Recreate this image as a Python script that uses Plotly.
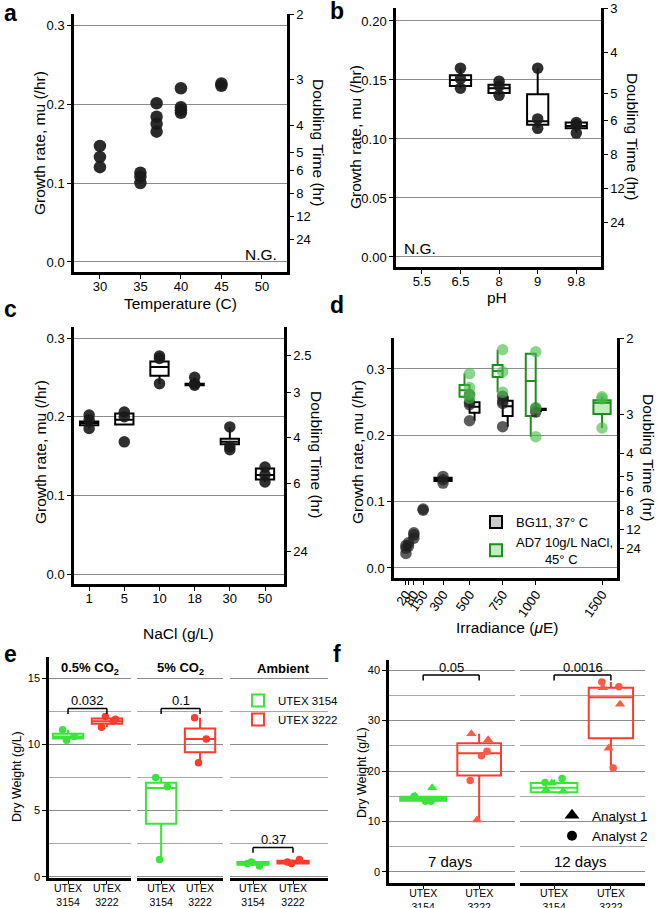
import math
import plotly.graph_objects as go

W, H = 657, 908
FONT = "Liberation Sans, Arial, Helvetica, sans-serif"
LN2 = math.log(2)

# ---------------- data ----------------
# a: temperature
a_temp = [30, 30, 30, 35, 35, 35, 37, 37, 37, 37, 40, 40, 40, 40, 45, 45]
a_mu = [0.147, 0.133, 0.120, 0.113, 0.108, 0.100, 0.201, 0.184, 0.175, 0.165,
        0.220, 0.196, 0.192, 0.189, 0.226, 0.223]
a_xticks = [30, 35, 40, 45, 50]

# b: pH
b_cats = ["5.5", "6.5", "8", "9", "9.8"]
b_pt_cat = ["6.5"] * 3 + ["8"] * 3 + ["9"] * 3 + ["9.8"] * 3
b_pt_mu = [0.160, 0.151, 0.143, 0.149, 0.145, 0.137, 0.160, 0.117, 0.109, 0.114, 0.112, 0.105]
b_box_cat = ["6.5", "8", "9", "9.8"]
b_q1 = [0.145, 0.139, 0.112, 0.109]
b_med = [0.150, 0.143, 0.115, 0.111]
b_q3 = [0.154, 0.146, 0.138, 0.114]
b_lo = [0.143, 0.137, 0.109, 0.105]
b_hi = [0.160, 0.149, 0.160, 0.114]

# c: NaCl
c_cats = ["1", "5", "10", "18", "30", "50"]
c_pt_cat = ["1"] * 3 + ["5"] * 3 + ["10"] * 3 + ["18"] * 3 + ["30"] * 3 + ["50"] * 3
c_pt_mu = [0.202, 0.196, 0.185, 0.206, 0.200, 0.168, 0.277, 0.274, 0.242,
           0.250, 0.242, 0.240, 0.187, 0.162, 0.158, 0.136, 0.126, 0.117]
c_q1 = [0.189, 0.190, 0.252, 0.240, 0.165, 0.120]
c_med = [0.192, 0.196, 0.263, 0.241, 0.168, 0.126]
c_q3 = [0.194, 0.204, 0.270, 0.242, 0.172, 0.134]
c_lo = [0.185, 0.190, 0.242, 0.240, 0.158, 0.117]
c_hi = [0.202, 0.206, 0.277, 0.250, 0.187, 0.136]

# d: irradiance
d_xticks = [20, 40, 80, 150, 300, 500, 750, 1000, 1500]
d_xticklabels = ["20", " ", "80", "150", "300", "500", "750", "1000", "1500"]
d_bg_x = [20, 20, 20, 40, 40, 80, 80, 80, 150, 150, 300, 300, 300,
          500, 500, 500, 500, 750, 750, 750, 750, 1000, 1000]
d_bg_mu = [0.022, 0.030, 0.034, 0.033, 0.038, 0.045, 0.050, 0.053, 0.087, 0.089,
           0.128, 0.133, 0.138, 0.261, 0.246, 0.250, 0.222, 0.259, 0.248, 0.252, 0.213,
           0.241, 0.235]
d_bg_box_x = [300, 500, 750, 1000]
d_bg_q1 = [0.131, 0.234, 0.229, 0.238]
d_bg_med = [0.134, 0.243, 0.244, 0.240]
d_bg_q3 = [0.136, 0.250, 0.252, 0.240]
d_bg_lo = [0.128, 0.222, 0.213, 0.235]
d_bg_hi = [0.138, 0.250, 0.259, 0.241]
d_ad_x = [500, 500, 500, 500, 750, 750, 750, 1000, 1000, 1000, 1500, 1500, 1500]
d_ad_mu = [0.293, 0.272, 0.262, 0.256, 0.329, 0.296, 0.265, 0.326, 0.241, 0.198,
           0.258, 0.255, 0.211]
d_ad_box_x = [500, 750, 1000, 1500]
d_ad_q1 = [0.258, 0.288, 0.229, 0.232]
d_ad_med = [0.268, 0.297, 0.282, 0.249]
d_ad_q3 = [0.276, 0.306, 0.323, 0.253]
d_ad_lo = [0.256, 0.265, 0.198, 0.211]
d_ad_hi = [0.293, 0.329, 0.323, 0.258]

# doubling-time labels (right axes)
a_dt = [2, 3, 4, 5, 6, 8, 12, 24]
b_dt = [3, 4, 5, 6, 8, 12, 24]
c_dt = [2.5, 3, 4, 6, 24]
d_dt = [2, 3, 4, 5, 6, 8, 12, 24]

# e: dry weight by CO2
e_facets = ["0.5% CO<sub>2</sub>", "5% CO<sub>2</sub>", "Ambient"]
e_strains = ["UTEX 3154", "UTEX 3222"]
e_g_pts = [[11.1, 10.6, 10.3], [7.5, 6.8, 1.3], [1.0, 0.8, 1.1]]
e_r_pts = [[11.3, 11.75, 12.1, 11.9], [12.0, 10.4, 8.6], [1.1, 1.3, 1.0]]
e_g_q1 = [10.45, 4.0, 0.9]
e_g_med = [10.6, 6.7, 1.0]
e_g_q3 = [10.8, 7.1, 1.1]
e_g_lo = [10.3, 1.3, 0.8]
e_g_hi = [11.1, 7.5, 1.1]
e_r_q1 = [11.55, 9.4, 1.0]
e_r_med = [11.75, 10.4, 1.1]
e_r_q3 = [11.95, 11.2, 1.2]
e_r_lo = [11.3, 8.6, 1.0]
e_r_hi = [12.15, 12.0, 1.3]
e_p = ["0.032", "0.1", "0.37"]
e_p_y = [12.7, 12.7, 2.2]

# f: dry weight by day / analyst
f_facets = ["7 days", "12 days"]
f_g_tri = [[15.0, 16.7], [16.3, 16.0, 17.6]]
f_g_cir = [[14.0, 15.0, 14.0], [18.5, 17.7]]
f_r_tri = [[27.4, 26.2, 10.3], [36.5, 33.2, 24.5]]
f_r_cir = [[23.9, 18.1, 23.0], [36.7, 37.6, 20.6]]
f_g_q1 = [14.1, 15.8]
f_g_med = [14.5, 16.7]
f_g_q3 = [14.9, 17.6]
f_g_lo = [14.0, 15.8]
f_g_hi = [15.0, 18.3]
f_r_q1 = [19.1, 26.5]
f_r_med = [23.5, 34.6]
f_r_q3 = [25.5, 36.5]
f_r_lo = [10.0, 20.6]
f_r_hi = [27.4, 37.6]
f_p = ["0.05", "0.0016"]
f_p_y = [39.0, 39.0]

# ---------------- helpers ----------------
def fx(p):
    return p / W


def fy(p):
    return 1 - p / H


GREEN = "#3be43b"
RED = "#ff3b2e"
DGREEN = "#1d8f1d"
GRID = "#8c8c8c"
JIT = [-0.14, 0.16, -0.04, 0.22, -0.22, 0.06]

fig = go.Figure()
L = dict(width=W, height=H, margin=dict(l=0, r=0, t=0, b=0, pad=0, autoexpand=False),
         paper_bgcolor="white", plot_bgcolor="white", showlegend=True,
         font=dict(family=FONT, color="black", size=13))
ann = []
shapes = []


def ax(**kw):
    d = dict(showline=True, linecolor="black", linewidth=2.5, ticks="outside",
             ticklen=4, tickwidth=1.2, tickcolor="black", zeroline=False, automargin=False,
             showgrid=False, tickfont=dict(size=13, family=FONT, color="black"))
    d.update(kw)
    return d


def key(prefix, n):
    return prefix + ("" if n == 1 else str(n))


def text(x, y, s, size=15.5, angle=0, bold=False, xanchor="center", yanchor="middle", **kw):
    ann.append(dict(x=fx(x), y=fy(y), xref="paper", yref="paper", text=("<b>%s</b>" % s) if bold else s,
                    showarrow=False, textangle=angle, xanchor=xanchor, yanchor=yanchor,
                    font=dict(size=size, family=FONT, color="black"), **kw))


def growth_panel(n_x, n_y, xdom, ydom, yrange, yticks, yticktext, dt, xkw):
    top = yrange[1]
    L[key("xaxis", n_x)] = ax(domain=[fx(xdom[0]), fx(xdom[1])], anchor=key("y", n_y),
                              ticklabelstandoff=-3, **xkw)
    L[key("yaxis", n_y)] = ax(domain=[fy(ydom[1]), fy(ydom[0])], anchor=key("x", n_x), range=yrange,
                              tickvals=yticks, ticktext=yticktext, showgrid=True,
                              gridcolor=GRID, gridwidth=1)
    L[key("yaxis", n_y + 1)] = ax(overlaying=key("y", n_y), side="right", anchor=key("x", n_x),
                                  range=yrange, tickvals=[min(LN2 / t, top) for t in dt],
                                  ticktext=[("%g" % t) for t in dt])
    fig.add_trace(go.Scatter(x=[None], y=[None], xaxis=key("x", n_x), yaxis=key("y", n_y + 1),
                             showlegend=False, hoverinfo="skip"))


def box(x, q1, med, q3, lo, hi, color, fill, width, xa, ya, name="", showlegend=False,
        legend="legend", lw=2):
    fig.add_trace(go.Box(x=x, q1=q1, median=med, q3=q3, lowerfence=lo, upperfence=hi,
                         line=dict(color=color, width=lw), fillcolor=fill, width=width,
                         whiskerwidth=0, boxpoints=False, xaxis=xa, yaxis=ya, name=name,
                         showlegend=showlegend, legend=legend, hoverinfo="skip"))


def pts(x, y, color, size, xa, ya, symbol="circle"):
    fig.add_trace(go.Scatter(x=x, y=y, mode="markers", xaxis=xa, yaxis=ya, showlegend=False,
                             marker=dict(color=color, size=size, symbol=symbol, line=dict(width=0)),
                             hoverinfo="skip"))


# ---------------- panel a ----------------
growth_panel(1, 1, (74, 287), (14, 272), [-0.0127, 0.314], [0, 0.1, 0.2, 0.3],
             ["0.0", "0.1", "0.2", "0.3"], a_dt,
             dict(range=[26.8, 53.1], tickvals=a_xticks))
pts(a_temp, a_mu, "rgba(25,25,25,0.92)", 12.5, "x", "y")
text(40, 143, "Growth rate, mu (/hr)", angle=-90)
text(318, 143, "Doubling Time (hr)", angle=90)
text(180, 303, "Temperature (C)")
text(279, 254, "N.G.", size=15.5, xanchor="right")

# ---------------- panel b ----------------
growth_panel(2, 3, (396, 601), (8, 267), [-0.0085, 0.211], [0, 0.05, 0.10, 0.15, 0.20],
             ["0.00", "0.05", "0.10", "0.15", "0.20"], b_dt,
             dict(range=[-0.67, 4.64], tickvals=list(range(len(b_cats))), ticktext=b_cats))
pts([b_cats.index(c) for c in b_pt_cat], b_pt_mu, "rgba(25,25,25,0.9)", 11.5, "x2", "y3")
box([b_cats.index(c) for c in b_box_cat], b_q1, b_med, b_q3, b_lo, b_hi, "black",
    "rgba(255,255,255,0.55)", 0.55, "x2", "y3")
text(355, 137, "Growth rate, mu (/hr)", angle=-90)
text(633, 137, "Doubling Time (hr)", angle=90)
text(497, 297, "pH")
text(402, 248, "N.G.", size=15.5, xanchor="left")

# ---------------- panel c ----------------
growth_panel(3, 5, (74, 284), (327, 584), [-0.0127, 0.314], [0, 0.1, 0.2, 0.3],
             ["0.0", "0.1", "0.2", "0.3"], c_dt,
             dict(range=[-0.43, 5.54], tickvals=list(range(len(c_cats))), ticktext=c_cats))
pts([c_cats.index(c) for c in c_pt_cat], c_pt_mu, "rgba(25,25,25,0.9)", 11.5, "x3", "y5")
box(list(range(len(c_cats))), c_q1, c_med, c_q3, c_lo, c_hi, "black",
    "rgba(255,255,255,0.55)", 0.52, "x3", "y5")
text(40, 452, "Growth rate, mu (/hr)", angle=-90)
text(316, 455, "Doubling Time (hr)", angle=90)
text(178, 633, "NaCl (g/L)")

# ---------------- panel d ----------------
growth_panel(4, 7, (394, 617), (338, 578), [-0.0151, 0.3467], [0, 0.1, 0.2, 0.3],
             ["0.0", "0.1", "0.2", "0.3"], d_dt,
             dict(range=[-70, 1613], tickvals=d_xticks, ticktext=d_xticklabels, tickangle=-55))
DODGE, WFULL, WDODGE = 38, 130, 75
shared = set(d_bg_box_x) & set(d_ad_box_x)
pts(d_bg_x, d_bg_mu, "rgba(30,30,30,0.72)", 11.5, "x4", "y7")
pts(d_ad_x, d_ad_mu, "rgba(70,185,70,0.62)", 11.5, "x4", "y7")


def split(xs, stats, dodged):
    idx = [i for i, v in enumerate(xs) if (v in shared) == dodged]
    return idx, [[s[i] for i in idx] for s in stats]


bg_stats = [d_bg_q1, d_bg_med, d_bg_q3, d_bg_lo, d_bg_hi]
ad_stats = [d_ad_q1, d_ad_med, d_ad_q3, d_ad_lo, d_ad_hi]
i, s = split(d_bg_box_x, bg_stats, False)
box([d_bg_box_x[k] for k in i], *s, "black", "rgba(160,160,160,0.55)", WFULL, "x4", "y7",
    name="BG11, 37° C", showlegend=True, legend="legend")
i, s = split(d_bg_box_x, bg_stats, True)
box([d_bg_box_x[k] + DODGE for k in i], *s, "black", "rgba(255,255,255,0.85)", WDODGE, "x4", "y7")
i, s = split(d_ad_box_x, ad_stats, False)
box([d_ad_box_x[k] for k in i], *s, DGREEN, "rgba(120,210,120,0.45)", WFULL, "x4", "y7",
    name="AD7 10g/L NaCl,<br>\u00a0\u00a0\u00a0\u00a0\u00a0\u00a0\u00a0\u00a045° C",
    showlegend=True, legend="legend")
i, s = split(d_ad_box_x, ad_stats, True)
box([d_ad_box_x[k] - DODGE for k in i], *s, DGREEN, "rgba(255,255,255,0.45)", WDODGE, "x4", "y7")
text(357, 452, "Growth rate, mu (/hr)", angle=-90)
text(649, 458, "Doubling Time (hr)", angle=90)
text(507, 627, "Irradiance (<i>μ</i>E)")
L["legend"] = dict(x=fx(476), y=fy(507), xanchor="left", yanchor="top", bgcolor="rgba(0,0,0,0)",
                   font=dict(size=13, family=FONT), tracegroupgap=2, itemwidth=30)

# ---------------- panel e ----------------
e_dom = [(49, 131), (137, 223), (230, 328)]
e_rng = [[-0.49, 1.62], [-0.62, 1.59], [-0.575, 1.875]]
cat_lbl = ["UTEX<br>3154", "UTEX<br>3222"]
for k in range(3):
    nx, ny = 5 + k, 9 + k
    xa, ya = key("x", nx), key("y", ny)
    L[key("xaxis", nx)] = ax(domain=[fx(e_dom[k][0]), fx(e_dom[k][1])], anchor=ya, range=e_rng[k],
                             tickvals=[0, 1], ticktext=cat_lbl, ticklen=3, ticklabelstandoff=-4,
                             tickfont=dict(size=10.5, family=FONT, color="black"))
    yk = dict(domain=[fy(878), fy(657)], anchor=xa, range=[-0.1, 16.6], tickvals=[0, 5, 10, 15],
              showgrid=True, gridcolor=GRID, gridwidth=1,
              minor=dict(dtick=2.5, tick0=0, showgrid=True, gridcolor="#a8a8a8", gridwidth=1),
              tickfont=dict(size=11, family=FONT, color="black"))
    if k > 0:
        yk.update(showline=False, showticklabels=False, ticks="")
    L[key("yaxis", ny)] = ax(**yk)
    box([0], [e_g_q1[k]], [e_g_med[k]], [e_g_q3[k]], [e_g_lo[k]], [e_g_hi[k]], GREEN,
        "rgba(255,255,255,0)", 0.78, xa, ya, name=e_strains[0], showlegend=(k == 0), legend="legend2")
    box([1], [e_r_q1[k]], [e_r_med[k]], [e_r_q3[k]], [e_r_lo[k]], [e_r_hi[k]], RED,
        "rgba(255,255,255,0)", 0.78, xa, ya, name=e_strains[1], showlegend=(k == 0), legend="legend2")
    pts([0 + JIT[j] for j in range(len(e_g_pts[k]))], e_g_pts[k], GREEN, 7.5, xa, ya)
    pts([1 + JIT[j] for j in range(len(e_r_pts[k]))], e_r_pts[k], RED, 7.5, xa, ya)
    yb = e_p_y[k]
    drop = 0.4
    for (x0, y0, x1, y1) in [(0, yb - drop, 0, yb), (0, yb, 1, yb), (1, yb, 1, yb - drop)]:
        shapes.append(dict(type="line", xref=xa, yref=ya, x0=x0, y0=y0, x1=x1, y1=y1,
                           line=dict(color="black", width=1.5)))
    ann.append(dict(x=0.5, y=yb, xref=xa, yref=ya, text=e_p[k], showarrow=False, yanchor="bottom",
                    yshift=-1, font=dict(size=13, family=FONT, color="black")))
    text((e_dom[k][0] + e_dom[k][1]) / 2 + (4 if k == 2 else 0), 668, e_facets[k], size=13, bold=True)
text(17, 777, "Dry Weight (g/L)", size=12.5, angle=-90)
L["legend2"] = dict(x=fx(238), y=fy(686), xanchor="left", yanchor="top", bgcolor="rgba(0,0,0,0)",
                    font=dict(size=11.5, family=FONT), tracegroupgap=0, itemwidth=30)

# ---------------- panel f ----------------
f_dom = [(389, 515), (520, 645)]
f_rng = [[-0.61, 1.64], [-0.6, 1.6]]
for k in range(2):
    nx, ny = 8 + k, 12 + k
    xa, ya = key("x", nx), key("y", ny)
    L[key("xaxis", nx)] = ax(domain=[fx(f_dom[k][0]), fx(f_dom[k][1])], anchor=ya, range=f_rng[k],
                             tickvals=[0, 1], ticktext=cat_lbl, ticklen=3, ticklabelstandoff=-4,
                             tickfont=dict(size=10.5, family=FONT, color="black"))
    yk = dict(domain=[fy(883), fy(660)], anchor=xa, range=[-2.18, 41.98], tickvals=[0, 10, 20, 30, 40],
              showgrid=True, gridcolor=GRID, gridwidth=1,
              minor=dict(dtick=5, tick0=0, showgrid=True, gridcolor="#a8a8a8", gridwidth=1),
              tickfont=dict(size=11, family=FONT, color="black"))
    if k > 0:
        yk.update(showline=False, showticklabels=False, ticks="")
    L[key("yaxis", ny)] = ax(**yk)
    box([0], [f_g_q1[k]], [f_g_med[k]], [f_g_q3[k]], [f_g_lo[k]], [f_g_hi[k]], GREEN,
        "rgba(255,255,255,0)", 0.82, xa, ya)
    box([1], [f_r_q1[k]], [f_r_med[k]], [f_r_q3[k]], [f_r_lo[k]], [f_r_hi[k]], RED,
        "rgba(255,255,255,0)", 0.78, xa, ya)
    pts([0 + JIT[j] for j in range(len(f_g_tri[k]))], f_g_tri[k], GREEN, 9, xa, ya, "triangle-up")
    pts([0 - JIT[j] for j in range(len(f_g_cir[k]))], f_g_cir[k], GREEN, 7.5, xa, ya)
    pts([1 + JIT[j] for j in range(len(f_r_tri[k]))], f_r_tri[k], "#ff5a48", 9, xa, ya, "triangle-up")
    pts([1 - JIT[j] for j in range(len(f_r_cir[k]))], f_r_cir[k], "#ff5a48", 7.5, xa, ya)
    yb = f_p_y[k]
    drop = 1.1
    for (x0, y0, x1, y1) in [(0, yb - drop, 0, yb), (0, yb, 1, yb), (1, yb, 1, yb - drop)]:
        shapes.append(dict(type="line", xref=xa, yref=ya, x0=x0, y0=y0, x1=x1, y1=y1,
                           line=dict(color="black", width=1.5)))
    ann.append(dict(x=0.5, y=yb, xref=xa, yref=ya, text=f_p[k], showarrow=False, yanchor="bottom",
                    yshift=-2, font=dict(size=13, family=FONT, color="black")))
    text((f_dom[k][0] + f_dom[k][1]) / 2 - 2, 861, f_facets[k], size=15)
fig.add_trace(go.Scatter(x=[None], y=[None], mode="markers", xaxis="x9", yaxis="y13", name="Analyst 1",
                         marker=dict(symbol="triangle-up", color="black", size=13), legend="legend3"))
fig.add_trace(go.Scatter(x=[None], y=[None], mode="markers", xaxis="x9", yaxis="y13", name="Analyst 2",
                         marker=dict(symbol="circle", color="black", size=10), legend="legend3"))
text(362, 773, "Dry Weight (g/L)", size=12.5, angle=-90)
L["legend3"] = dict(x=fx(552), y=fy(800), xanchor="left", yanchor="top", bgcolor="rgba(0,0,0,0)",
                    font=dict(size=13.5, family=FONT), tracegroupgap=0, itemwidth=30)

# ---------------- panel letters ----------------
for lab, x, y in [("a", 10, 13), ("b", 337, 11), ("c", 10, 309), ("d", 337, 305),
                  ("e", 10, 654), ("f", 337, 654)]:
    text(x, y, lab, size=23, bold=True)

L["annotations"] = ann
L["shapes"] = shapes
fig.update_layout(**L)
fig.write_html("out.html", config={"displayModeBar": False},
               post_script="document.body.style.margin='0px';")
